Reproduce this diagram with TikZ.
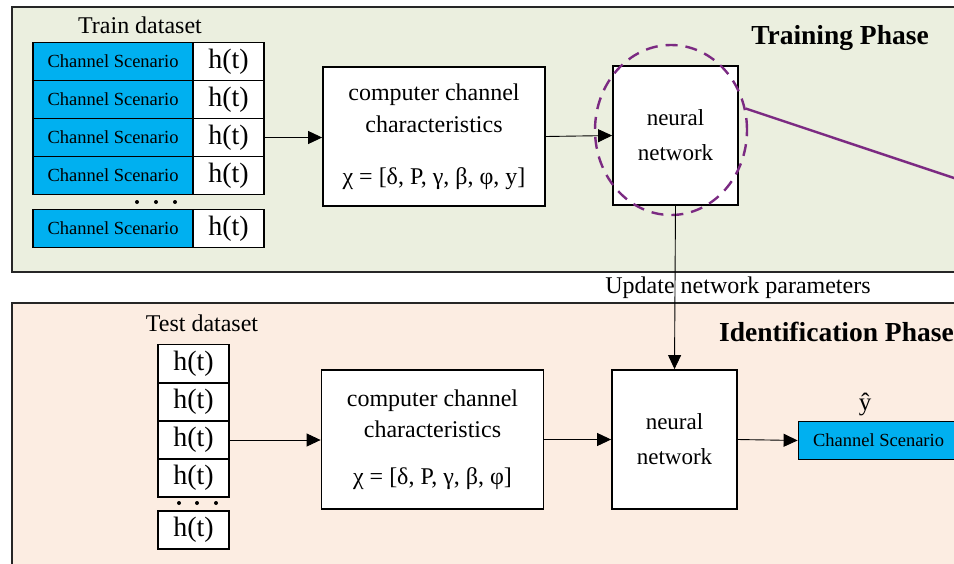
\documentclass[tikz,border=0pt]{standalone}
\usepackage{fontspec}
\setmainfont{Liberation Serif}
\usetikzlibrary{arrows.meta,shapes.geometric}

\definecolor{trainbg}{HTML}{EBEFDF}
\definecolor{testbg}{HTML}{FCEDE2}
\definecolor{cellblue}{HTML}{00B0F0}
\definecolor{loopviolet}{HTML}{7B2A82}
\definecolor{frame}{HTML}{262626}

\newcommand{\fs}[1]{\fontsize{#1}{#1}\selectfont}

\tikzset{
  panel/.style={draw=frame, line width=1.8pt},
  scenario/.style={draw=black, line width=1.8pt, fill=cellblue, inner sep=0pt,
    minimum width=160pt, minimum height=38pt, font=\fs{18.5}},
  sample/.style={draw=black, line width=1.8pt, fill=white, inner sep=0pt,
    minimum width=71pt, minimum height=38pt, font=\fs{28}},
  procbox/.style={draw=black, line width=1.8pt, fill=white, inner sep=0pt,
    minimum width=222pt, minimum height=139pt, align=center},
  netbox/.style={draw=black, line width=1.8pt, fill=white, inner sep=0pt,
    minimum width=125pt, minimum height=139pt, align=center,
    font=\fontsize{23}{35}\selectfont},
  flow/.style={draw=black, line width=0.9pt, -{Triangle[length=14pt,width=13pt]}},
  caption/.style={font=\fs{24}, inner sep=0pt},
  phase/.style={font=\bfseries\fs{27.5}, inner sep=0pt},
  dot/.style={circle, fill=black, inner sep=0pt, minimum size=4pt}
}

\begin{document}
\begin{tikzpicture}[x=1pt,y=-1pt]
\clip (0,0) rectangle (954,563);
\fill[white] (0,0) rectangle (954,563);

% phase panels
\draw[panel, fill=trainbg] (12,7) rectangle (990,272);
\draw[panel, fill=testbg] (12,303) rectangle (990,600);

\node[phase] (trainphase) at (840,38) {Training Phase};
\node[phase, anchor=west] (idphase) at (719,332) {Identification Phase};

% training data set
\node[caption] (traintitle) at (140,25) {Train dataset};
\foreach \i/\y in {1/61.5, 2/99.5, 3/137.5, 4/175.5, 5/228.5} {
  \node[scenario] (cs\i) at (113,\y) {Channel Scenario};
  \node[sample] (ht\i) at (228.5,\y) {h(t)};
}
\node[dot] (td1) at (137,202) {};
\node[dot] (td2) at (156,202) {};
\node[dot] (td3) at (175,202) {};

% training chain
\node[procbox, font=\fontsize{24}{32}\selectfont] (feat1) at (434,136.5)
  {computer channel\\characteristics\\[20pt]χ = [δ, P, γ, β, φ, y]};
\node[netbox] (nn1) at (675.5,135.5) {neural\\network};
\node[draw=loopviolet, ellipse, line width=2.4pt, dash pattern=on 12pt off 8pt,
  minimum width=152pt, minimum height=170pt, inner sep=0pt] (loop) at (671,130) {};
\coordinate (loopend) at (990,190);
\draw[loopviolet, line width=2.4pt] (loop.16) -- (loopend);

\draw[flow] (ht3.east) -- (feat1.west |- ht3.east);
\draw[flow] (feat1.east) -- (nn1.west);

% parameter update
\node[caption] (update) at (738,288) {Update network parameters};

% test data set
\node[caption] (testtitle) at (202,323) {Test dataset};
\foreach \i/\y in {1/363.5, 2/402, 3/440, 4/478, 5/530} {
  \node[sample] (st\i) at (193.5,\y) {h(t)};
}
\node[dot] (sd1) at (179,503) {};
\node[dot] (sd2) at (197,503) {};
\node[dot] (sd3) at (216,503) {};

% identification chain
\node[procbox, font=\fontsize{24}{31}\selectfont] (feat2) at (432.5,439.5)
  {computer channel\\characteristics\\[16pt]χ = [δ, P, γ, β, φ]};
\node[netbox] (nn2) at (674.5,439.5) {neural\\network};
\node[scenario] (result) at (878.5,440.5) {Channel Scenario};
\node[font=\fs{25}, inner sep=0pt] (yhat) at (865,404) {ŷ};

\draw[flow] (st3.east) -- (feat2.west |- st3.east);
\draw[flow] (feat2.east) -- (nn2.west);
\draw[flow] (nn2.east) -- (result.west);
\draw[flow] (nn1.south) -- (nn2.north);
\end{tikzpicture}
\end{document}
